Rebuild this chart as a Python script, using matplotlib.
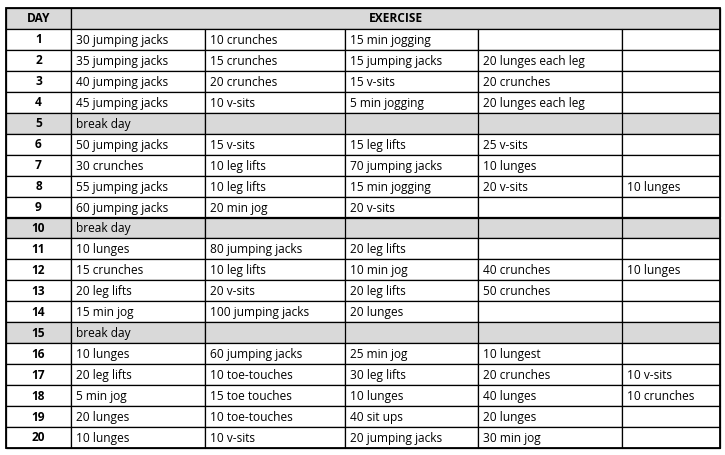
import matplotlib
matplotlib.use("Agg")
import matplotlib.pyplot as plt
from matplotlib.patches import Rectangle

days = list(range(1, 21))
col1 = ["30 jumping jacks","35 jumping jacks","40 jumping jacks","45 jumping jacks","break day",
        "50 jumping jacks","30 crunches","55 jumping jacks","60 jumping jacks","break day",
        "10 lunges","15 crunches","20 leg lifts","15 min jog","break day",
        "10 lunges","20 leg lifts","5 min jog","20 lunges","10 lunges"]
col2 = ["10 crunches","15 crunches","20 crunches","10 v-sits","",
        "15 v-sits","10 leg lifts","10 leg lifts","20 min jog","",
        "80 jumping jacks","10 leg lifts","20 v-sits","100 jumping jacks","",
        "60 jumping jacks","10 toe-touches","15 toe touches","10 toe-touches","10 v-sits"]
col3 = ["15 min jogging","15 jumping jacks","15 v-sits","5 min jogging","",
        "15 leg lifts","70 jumping jacks","15 min jogging","20 v-sits","",
        "20 leg lifts","10 min jog","20 leg lifts","20 lunges","",
        "25 min jog","30 leg lifts","10 lunges","40 sit ups","20 jumping jacks"]
col4 = ["","20 lunges each leg","20 crunches","20 lunges each leg","",
        "25 v-sits","10 lunges","20 v-sits","","",
        "","40 crunches","50 crunches","","",
        "10 lungest","20 crunches","40 lunges","20 lunges","30 min jog"]
col5 = ["","","","","",
        "","","10 lunges","","",
        "","10 lunges","","","",
        "","10 v-sits","10 crunches","",""]
header = ["DAY", "EXERCISE"]

W, H = 725, 455
fig = plt.figure(figsize=(W/100, H/100), dpi=100)
ax = fig.add_axes([0, 0, 1, 1])
ax.set_xlim(0, W); ax.set_ylim(H, 0); ax.axis("off")

edges = [6, 71, 205, 345, 478, 622, 720]
top, rh = 8, 20.95
gray = "#d9d9d9"
fnt = dict(family="Open Sans", fontsize=8.6, color="black")
lw = 0.9

def rect(x0, x1, y0, fc):
    ax.add_patch(Rectangle((x0, y0), x1 - x0, rh, facecolor=fc, edgecolor="black", lw=lw))

rect(edges[0], edges[1], top, gray)
rect(edges[1], edges[-1], top, gray)
ax.text((edges[0]+edges[1])/2, top+rh/2, header[0], ha="center", va="center", weight="bold", **fnt)
ax.text((edges[1]+edges[-1])/2, top+rh/2, header[1], ha="center", va="center", weight="bold", **fnt)

cols = [col1, col2, col3, col4, col5]
for i, d in enumerate(days):
    y0 = top + rh*(i+1)
    brk = col1[i] == "break day"
    fc = gray if brk else "white"
    rect(edges[0], edges[1], y0, fc)
    ax.text((edges[0]+edges[1])/2, y0+rh/2+0.5, str(d), ha="center", va="center", weight="bold", **fnt)
    if brk:
        rect(edges[1], edges[2], y0, fc)
        rect(edges[2], edges[-1], y0, fc)
        for x in edges[3:-1]:
            ax.plot([x, x], [y0, y0+rh], color="black", lw=lw)
    else:
        for j in range(5):
            rect(edges[j+1], edges[j+2], y0, fc)
    for j, c in enumerate(cols):
        if c[i]:
            ax.text(edges[j+1]+5, y0+rh/2+1, c[i], ha="left", va="center", **fnt)

ax.add_patch(Rectangle((edges[0], top), edges[-1]-edges[0], rh*21, fill=False, edgecolor="black", lw=1.3))
fig.savefig("out.png", dpi=100)
